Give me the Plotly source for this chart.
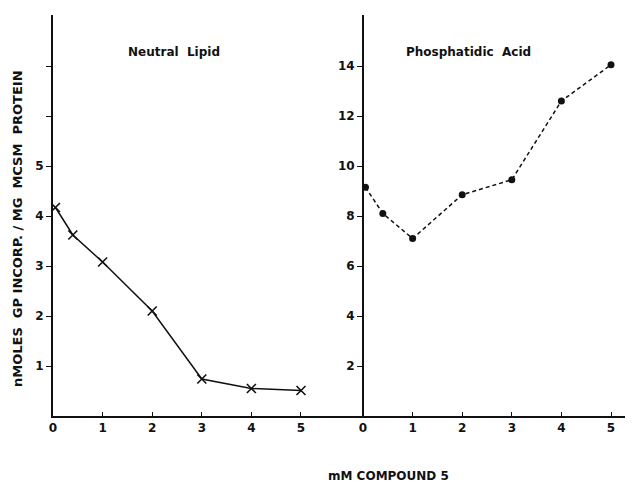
import plotly.graph_objects as go

# Data
conc_neutral = [0.05, 0.4, 1, 2, 3, 4, 5]
neutral_lipid = [4.17, 3.62, 3.08, 2.1, 0.74, 0.55, 0.51]
conc_pa = [0.05, 0.4, 1, 2, 3, 4, 5]
phosphatidic_acid = [9.15, 8.1, 7.1, 8.85, 9.45, 12.6, 14.05]

x_ticks = [0, 1, 2, 3, 4, 5]
left_y_ticks = [1, 2, 3, 4, 5, 6, 7]
left_y_text = ["1", "2", "3", "4", "5", "", ""]
right_y_ticks = [2, 4, 6, 8, 10, 12, 14]

INK = "#111111"
FONT = "DejaVu Sans"

fig = go.Figure()
fig.add_trace(go.Scatter(
    x=conc_neutral, y=neutral_lipid, mode="lines+markers",
    line=dict(color=INK, width=1.5),
    marker=dict(symbol="x-thin", size=9, line=dict(color=INK, width=1.6), color=INK),
    xaxis="x", yaxis="y", showlegend=False))
fig.add_trace(go.Scatter(
    x=conc_pa, y=phosphatidic_acid, mode="lines+markers",
    line=dict(color=INK, width=1.5, dash="4px,3px"),
    marker=dict(symbol="circle", size=7, color=INK),
    xaxis="x2", yaxis="y2", showlegend=False))

tickfont = dict(family=FONT, size=12, color=INK, weight="bold")
axis_common = dict(showgrid=False, zeroline=False, showline=True, linecolor=INK,
                   linewidth=2, tickcolor=INK, tickfont=tickfont)

PW = 577.0  # plot-area width in px
PH = 401.0  # plot-area height in px
y2_pos = 310 / PW
title_font = dict(family=FONT, size=12, color=INK, weight="bold")

fig.update_layout(
    width=625, height=474,
    margin=dict(l=45, r=3, t=7, b=66),
    paper_bgcolor="white", plot_bgcolor="white",
    xaxis=dict(domain=[0, 278 / PW], range=[0, 5.605], tickvals=x_ticks,
               ticks="inside", ticklen=4, tickwidth=1, anchor="y", **axis_common),
    xaxis2=dict(domain=[278 / PW, 1], range=[-0.645, 5.383], tickvals=x_ticks,
                ticks="inside", ticklen=4, tickwidth=1, anchor="y2", **axis_common),
    yaxis=dict(domain=[0, 1], range=[0, 8.02], tickvals=left_y_ticks, ticktext=left_y_text,
               ticks="outside", ticklen=5, tickwidth=1, anchor="x", **axis_common),
    yaxis2=dict(domain=[0, 1], range=[0, 16.04], tickvals=right_y_ticks,
                ticks="outside", ticklen=5, tickwidth=1, anchor="free", position=y2_pos,
                **axis_common),
    annotations=[
        dict(text="Neutral  Lipid", xref="paper", yref="paper",
             x=121 / PW, y=364 / PH, xanchor="center", yanchor="middle",
             showarrow=False, font=title_font),
        dict(text="Phosphatidic  Acid", xref="paper", yref="paper",
             x=415 / PW, y=364 / PH, xanchor="center", yanchor="middle",
             showarrow=False, font=title_font),
        dict(text="nMOLES  GP INCORP. / MG  MCSM  PROTEIN", xref="paper", yref="paper",
             x=-36 / PW, y=187 / PH, xanchor="center", yanchor="middle",
             textangle=-90, showarrow=False, font=dict(family=FONT, size=13, color=INK, weight="bold")),
        dict(text="mM COMPOUND 5", xref="paper", yref="paper",
             x=335 / PW, y=-60 / PH, xanchor="center", yanchor="middle",
             showarrow=False, font=dict(family=FONT, size=12, color=INK, weight="bold")),
    ],
)

fig.write_html("out.html")
